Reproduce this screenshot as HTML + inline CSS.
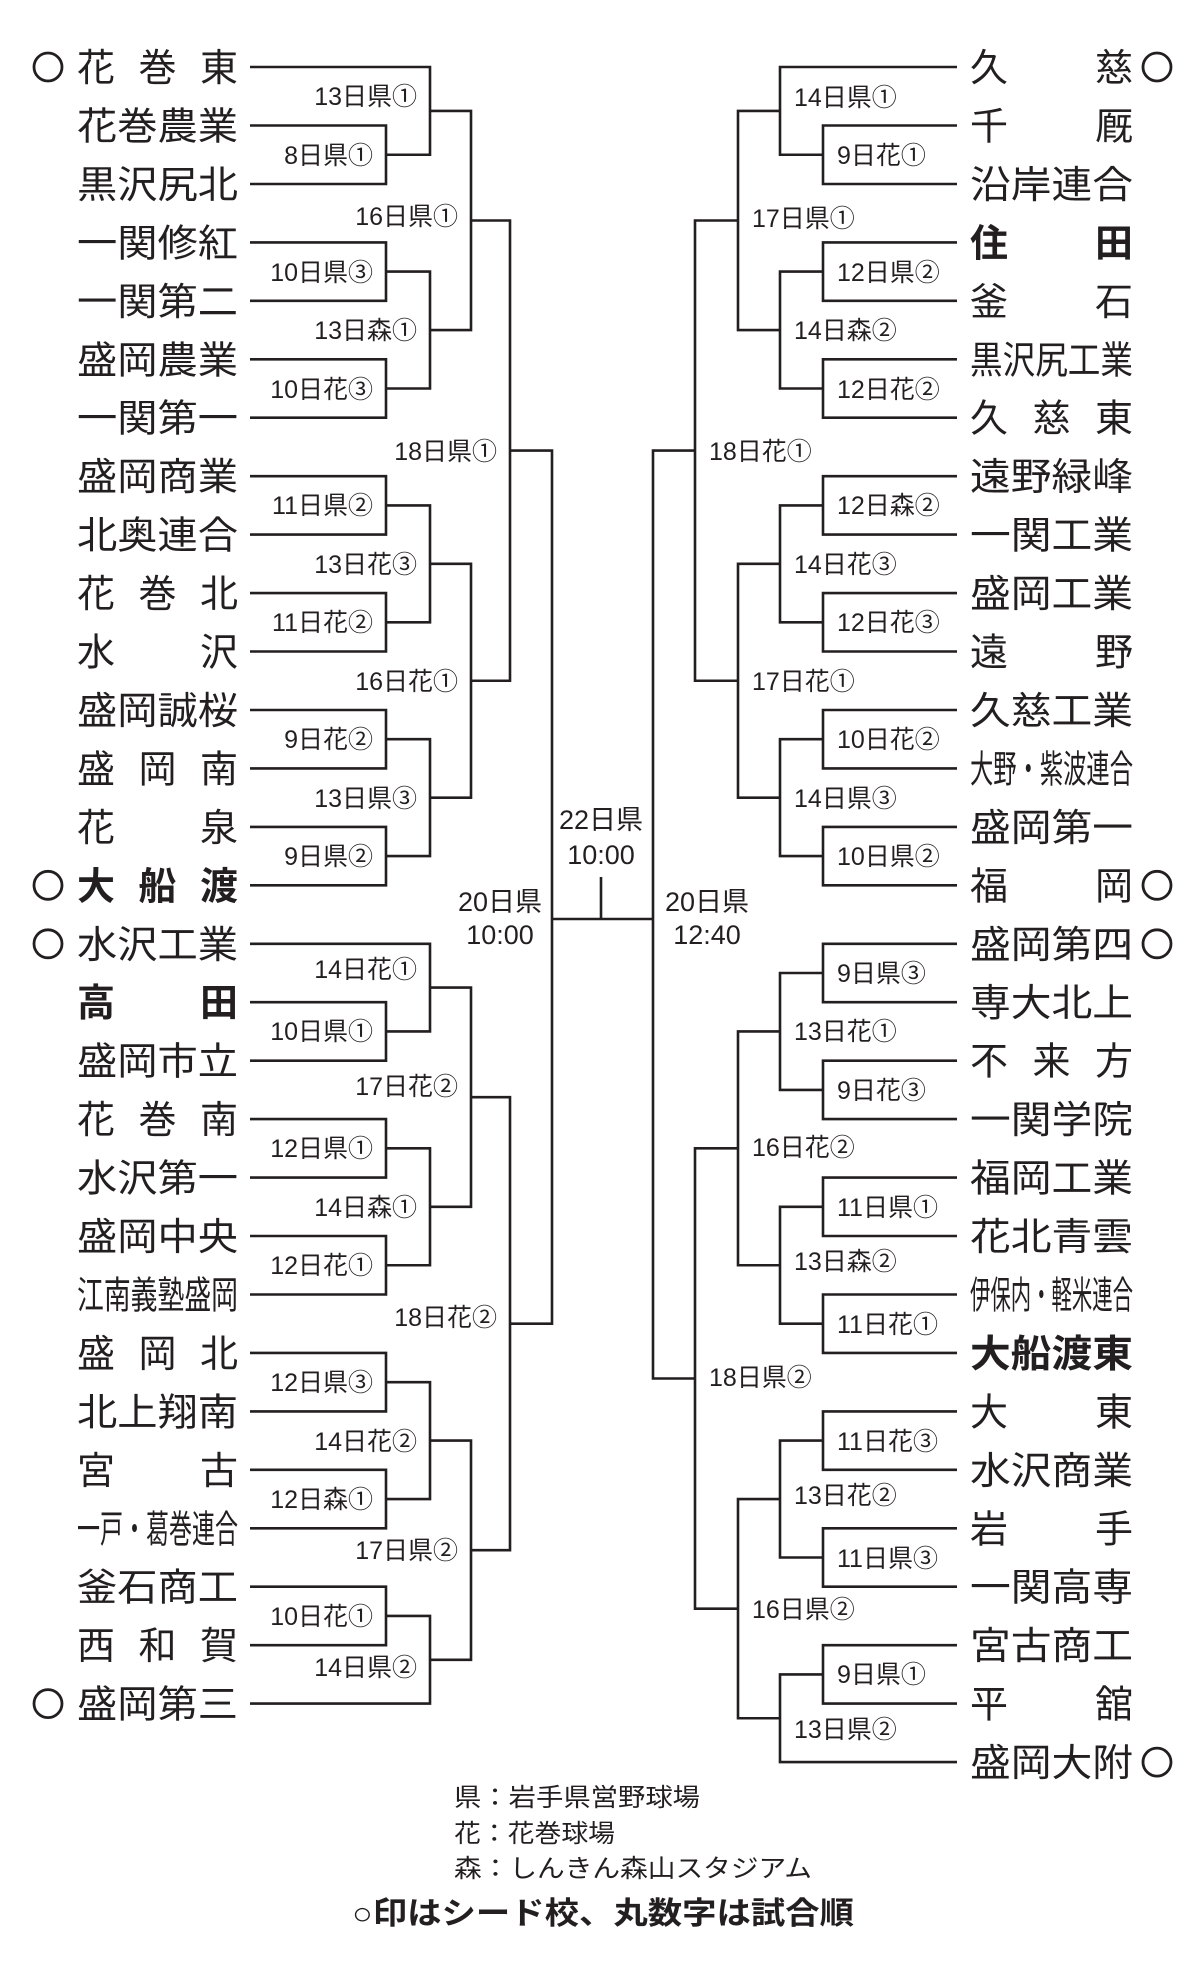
<!DOCTYPE html>
<html><head><meta charset="utf-8"><style>
html,body{margin:0;padding:0;background:#fff;}
svg{display:block;}
.n{font-family:"Liberation Sans","Noto Sans CJK JP",sans-serif;font-size:38px;fill:#231f20;}
.b{font-weight:bold;}
.l{font-family:"Liberation Sans","Noto Sans CJK JP",sans-serif;font-size:25px;fill:#231f20;}
.c{font-family:"Liberation Sans","Noto Sans CJK JP",sans-serif;font-size:27px;fill:#231f20;text-anchor:middle;}
.g{font-family:"Liberation Sans","Noto Sans CJK JP",sans-serif;font-size:25px;fill:#231f20;}
</style></head><body>
<svg width="1200" height="1967" viewBox="0 0 1200 1967" xmlns="http://www.w3.org/2000/svg">
<g fill="none" stroke="#231f20" stroke-width="2.6">
<!-- left first round pairs -->
<path d="M250 125.5H386V184H250"/>
<path d="M250 242.4H386V300.8H250"/>
<path d="M250 359.3H386V417.7H250"/>
<path d="M250 476.2H386V534.6H250"/>
<path d="M250 593.1H386V651.5H250"/>
<path d="M250 710H386V768.4H250"/>
<path d="M250 826.9H386V885.3H250"/>
<path d="M250 1002.2H386V1060.7H250"/>
<path d="M250 1119.1H386V1177.6H250"/>
<path d="M250 1236H386V1294.5H250"/>
<path d="M250 1352.9H386V1411.4H250"/>
<path d="M250 1469.8H386V1528.3H250"/>
<path d="M250 1586.7H386V1645.2H250"/>
<!-- left level 430 -->
<path d="M250 67H430V154.75H386"/>
<path d="M386 271.6H430V388.5H386"/>
<path d="M386 505.4H430V622.3H386"/>
<path d="M386 739.2H430V856.1H386"/>
<path d="M250 943.8H430V1031.45H386"/>
<path d="M386 1148.35H430V1265.25H386"/>
<path d="M386 1382.15H430V1499.05H386"/>
<path d="M386 1615.95H430V1703.6H250"/>
<!-- left level 471 -->
<path d="M430 110.9H471V330.05H430"/>
<path d="M430 563.85H471V797.65H430"/>
<path d="M430 987.6H471V1206.8H430"/>
<path d="M430 1440.6H471V1659.8H430"/>
<!-- left level 510 -->
<path d="M471 220.5H510V680.75H471"/>
<path d="M471 1097.2H510V1550.2H471"/>
<!-- left 552 -->
<path d="M510 450.6H552V1323.7H510"/>
<!-- center -->
<path d="M552 919H653"/>
<path d="M601 877V919"/>
<!-- right first round pairs -->
<path d="M957 125.5H823V184H957"/>
<path d="M957 242.4H823V300.8H957"/>
<path d="M957 359.3H823V417.7H957"/>
<path d="M957 476.2H823V534.6H957"/>
<path d="M957 593.1H823V651.5H957"/>
<path d="M957 710H823V768.4H957"/>
<path d="M957 826.9H823V885.3H957"/>
<path d="M957 943.8H823V1002.2H957"/>
<path d="M957 1060.7H823V1119.1H957"/>
<path d="M957 1177.6H823V1236H957"/>
<path d="M957 1294.5H823V1352.9H957"/>
<path d="M957 1411.4H823V1469.8H957"/>
<path d="M957 1528.3H823V1586.7H957"/>
<path d="M957 1645.2H823V1703.6H957"/>
<!-- right level 780 -->
<path d="M957 67H780V154.75H823"/>
<path d="M823 271.6H780V388.5H823"/>
<path d="M823 505.4H780V622.3H823"/>
<path d="M823 739.2H780V856.1H823"/>
<path d="M823 973H780V1089.9H823"/>
<path d="M823 1206.8H780V1323.7H823"/>
<path d="M823 1440.6H780V1557.5H823"/>
<path d="M823 1674.4H780V1762.1H957"/>
<!-- right level 738 -->
<path d="M780 110.9H738V330.05H780"/>
<path d="M780 563.85H738V797.65H780"/>
<path d="M780 1031.45H738V1265.25H780"/>
<path d="M780 1499.05H738V1718.25H780"/>
<!-- right level 695 -->
<path d="M738 220.5H695V680.75H738"/>
<path d="M738 1148.35H695V1608.65H738"/>
<!-- right 653 -->
<path d="M695 450.6H653V1378.5H695"/>
<!-- seed circles -->
<circle cx="48" cy="67" r="14" stroke-width="2.8"/>
<circle cx="48" cy="885.3" r="14" stroke-width="2.8"/>
<circle cx="48" cy="943.8" r="14" stroke-width="2.8"/>
<circle cx="48" cy="1703.6" r="14" stroke-width="2.8"/>
<circle cx="1157" cy="67" r="14" stroke-width="2.8"/>
<circle cx="1157" cy="885.3" r="14" stroke-width="2.8"/>
<circle cx="1157" cy="943.8" r="14" stroke-width="2.8"/>
<circle cx="1157" cy="1762.1" r="14" stroke-width="2.8"/>
</g>

<!-- left names -->
<g class="n">
<text x="77" y="81" textLength="161" lengthAdjust="spacing">花巻東</text>
<text x="77" y="139.5" textLength="161" lengthAdjust="spacingAndGlyphs">花巻農業</text>
<text x="77" y="198" textLength="161" lengthAdjust="spacingAndGlyphs">黒沢尻北</text>
<text x="77" y="256.4" textLength="161" lengthAdjust="spacingAndGlyphs">一関修紅</text>
<text x="77" y="314.8" textLength="161" lengthAdjust="spacingAndGlyphs">一関第二</text>
<text x="77" y="373.3" textLength="161" lengthAdjust="spacingAndGlyphs">盛岡農業</text>
<text x="77" y="431.7" textLength="161" lengthAdjust="spacingAndGlyphs">一関第一</text>
<text x="77" y="490.2" textLength="161" lengthAdjust="spacingAndGlyphs">盛岡商業</text>
<text x="77" y="548.6" textLength="161" lengthAdjust="spacingAndGlyphs">北奥連合</text>
<text x="77" y="607.1" textLength="161" lengthAdjust="spacing">花巻北</text>
<text x="77" y="665.5" textLength="161" lengthAdjust="spacing">水沢</text>
<text x="77" y="724" textLength="161" lengthAdjust="spacingAndGlyphs">盛岡誠桜</text>
<text x="77" y="782.4" textLength="161" lengthAdjust="spacing">盛岡南</text>
<text x="77" y="840.9" textLength="161" lengthAdjust="spacing">花泉</text>
<text class="n b" x="77" y="899.3" textLength="161" lengthAdjust="spacing">大船渡</text>
<text x="77" y="957.8" textLength="161" lengthAdjust="spacingAndGlyphs">水沢工業</text>
<text class="n b" x="77" y="1016.2" textLength="161" lengthAdjust="spacing">高田</text>
<text x="77" y="1074.7" textLength="161" lengthAdjust="spacingAndGlyphs">盛岡市立</text>
<text x="77" y="1133.1" textLength="161" lengthAdjust="spacing">花巻南</text>
<text x="77" y="1191.6" textLength="161" lengthAdjust="spacingAndGlyphs">水沢第一</text>
<text x="77" y="1250" textLength="161" lengthAdjust="spacingAndGlyphs">盛岡中央</text>
<text x="77" y="1308.5" textLength="161" lengthAdjust="spacingAndGlyphs">江南義塾盛岡</text>
<text x="77" y="1366.9" textLength="161" lengthAdjust="spacing">盛岡北</text>
<text x="77" y="1425.4" textLength="161" lengthAdjust="spacingAndGlyphs">北上翔南</text>
<text x="77" y="1483.8" textLength="161" lengthAdjust="spacing">宮古</text>
<text x="77" y="1542.3" textLength="161" lengthAdjust="spacingAndGlyphs">一戸・葛巻連合</text>
<text x="77" y="1600.7" textLength="161" lengthAdjust="spacingAndGlyphs">釜石商工</text>
<text x="77" y="1659.2" textLength="161" lengthAdjust="spacing">西和賀</text>
<text x="77" y="1717.6" textLength="161" lengthAdjust="spacingAndGlyphs">盛岡第三</text>
</g>

<!-- right names -->
<g class="n">
<text x="970" y="81" textLength="163" lengthAdjust="spacing">久慈</text>
<text x="970" y="139.5" textLength="163" lengthAdjust="spacing">千厩</text>
<text x="970" y="198" textLength="163" lengthAdjust="spacingAndGlyphs">沿岸連合</text>
<text class="n b" x="970" y="256.4" textLength="163" lengthAdjust="spacing">住田</text>
<text x="970" y="314.8" textLength="163" lengthAdjust="spacing">釜石</text>
<text x="970" y="373.3" textLength="163" lengthAdjust="spacingAndGlyphs">黒沢尻工業</text>
<text x="970" y="431.7" textLength="163" lengthAdjust="spacing">久慈東</text>
<text x="970" y="490.2" textLength="163" lengthAdjust="spacingAndGlyphs">遠野緑峰</text>
<text x="970" y="548.6" textLength="163" lengthAdjust="spacingAndGlyphs">一関工業</text>
<text x="970" y="607.1" textLength="163" lengthAdjust="spacingAndGlyphs">盛岡工業</text>
<text x="970" y="665.5" textLength="163" lengthAdjust="spacing">遠野</text>
<text x="970" y="724" textLength="163" lengthAdjust="spacingAndGlyphs">久慈工業</text>
<text x="970" y="782.4" textLength="163" lengthAdjust="spacingAndGlyphs">大野・紫波連合</text>
<text x="970" y="840.9" textLength="163" lengthAdjust="spacingAndGlyphs">盛岡第一</text>
<text x="970" y="899.3" textLength="163" lengthAdjust="spacing">福岡</text>
<text x="970" y="957.8" textLength="163" lengthAdjust="spacingAndGlyphs">盛岡第四</text>
<text x="970" y="1016.2" textLength="163" lengthAdjust="spacingAndGlyphs">専大北上</text>
<text x="970" y="1074.7" textLength="163" lengthAdjust="spacing">不来方</text>
<text x="970" y="1133.1" textLength="163" lengthAdjust="spacingAndGlyphs">一関学院</text>
<text x="970" y="1191.6" textLength="163" lengthAdjust="spacingAndGlyphs">福岡工業</text>
<text x="970" y="1250" textLength="163" lengthAdjust="spacingAndGlyphs">花北青雲</text>
<text x="970" y="1308.5" textLength="163" lengthAdjust="spacingAndGlyphs">伊保内・軽米連合</text>
<text class="n b" x="970" y="1366.9" textLength="163" lengthAdjust="spacingAndGlyphs">大船渡東</text>
<text x="970" y="1425.4" textLength="163" lengthAdjust="spacing">大東</text>
<text x="970" y="1483.8" textLength="163" lengthAdjust="spacingAndGlyphs">水沢商業</text>
<text x="970" y="1542.3" textLength="163" lengthAdjust="spacing">岩手</text>
<text x="970" y="1600.7" textLength="163" lengthAdjust="spacingAndGlyphs">一関高専</text>
<text x="970" y="1659.2" textLength="163" lengthAdjust="spacingAndGlyphs">宮古商工</text>
<text x="970" y="1717.6" textLength="163" lengthAdjust="spacing">平舘</text>
<text x="970" y="1776.1" textLength="163" lengthAdjust="spacingAndGlyphs">盛岡大附</text>
</g>

<!-- left labels -->
<g class="l" text-anchor="end">
<text x="373" y="164">8日県①</text>
<text x="373" y="281">10日県③</text>
<text x="373" y="398">10日花③</text>
<text x="373" y="514">11日県②</text>
<text x="373" y="631">11日花②</text>
<text x="373" y="748">9日花②</text>
<text x="373" y="865">9日県②</text>
<text x="373" y="1040">10日県①</text>
<text x="373" y="1157">12日県①</text>
<text x="373" y="1274">12日花①</text>
<text x="373" y="1391">12日県③</text>
<text x="373" y="1508">12日森①</text>
<text x="373" y="1625">10日花①</text>
<text x="417" y="105">13日県①</text>
<text x="417" y="339">13日森①</text>
<text x="417" y="573">13日花③</text>
<text x="417" y="807">13日県③</text>
<text x="417" y="978">14日花①</text>
<text x="417" y="1216">14日森①</text>
<text x="417" y="1450">14日花②</text>
<text x="417" y="1676">14日県②</text>
<text x="458" y="225">16日県①</text>
<text x="458" y="690">16日花①</text>
<text x="458" y="1095">17日花②</text>
<text x="458" y="1559">17日県②</text>
<text x="497" y="460">18日県①</text>
<text x="497" y="1326">18日花②</text>
</g>

<!-- right labels -->
<g class="l">
<text x="837" y="164">9日花①</text>
<text x="837" y="281">12日県②</text>
<text x="837" y="398">12日花②</text>
<text x="837" y="514">12日森②</text>
<text x="837" y="631">12日花③</text>
<text x="837" y="748">10日花②</text>
<text x="837" y="865">10日県②</text>
<text x="837" y="982">9日県③</text>
<text x="837" y="1099">9日花③</text>
<text x="837" y="1216">11日県①</text>
<text x="837" y="1333">11日花①</text>
<text x="837" y="1450">11日花③</text>
<text x="837" y="1567">11日県③</text>
<text x="837" y="1683">9日県①</text>
<text x="794" y="106">14日県①</text>
<text x="794" y="339">14日森②</text>
<text x="794" y="573">14日花③</text>
<text x="794" y="807">14日県③</text>
<text x="794" y="1040">13日花①</text>
<text x="794" y="1270">13日森②</text>
<text x="794" y="1504">13日花②</text>
<text x="794" y="1738">13日県②</text>
<text x="752" y="227">17日県①</text>
<text x="752" y="690">17日花①</text>
<text x="752" y="1156">16日花②</text>
<text x="752" y="1618">16日県②</text>
<text x="709" y="460">18日花①</text>
<text x="709" y="1386">18日県②</text>
</g>

<!-- center labels -->
<text class="c" x="601" y="829">22日県</text>
<text class="c" x="601" y="864">10:00</text>
<text class="c" x="500" y="911">20日県</text>
<text class="c" x="500" y="944">10:00</text>
<text class="c" x="707" y="911">20日県</text>
<text class="c" x="707" y="944">12:40</text>

<!-- legend -->
<text class="g" x="454" y="1806" textLength="246" lengthAdjust="spacingAndGlyphs">県：岩手県営野球場</text>
<text class="g" x="454" y="1842" textLength="161" lengthAdjust="spacingAndGlyphs">花：花巻球場</text>
<text class="g" x="454" y="1877" textLength="358" lengthAdjust="spacingAndGlyphs">森：しんきん森山スタジアム</text>
<text class="g" x="352" y="1924" style="font-size:31px;font-weight:bold" textLength="502" lengthAdjust="spacingAndGlyphs">○印はシード校、丸数字は試合順</text>
</svg>
</body></html>
